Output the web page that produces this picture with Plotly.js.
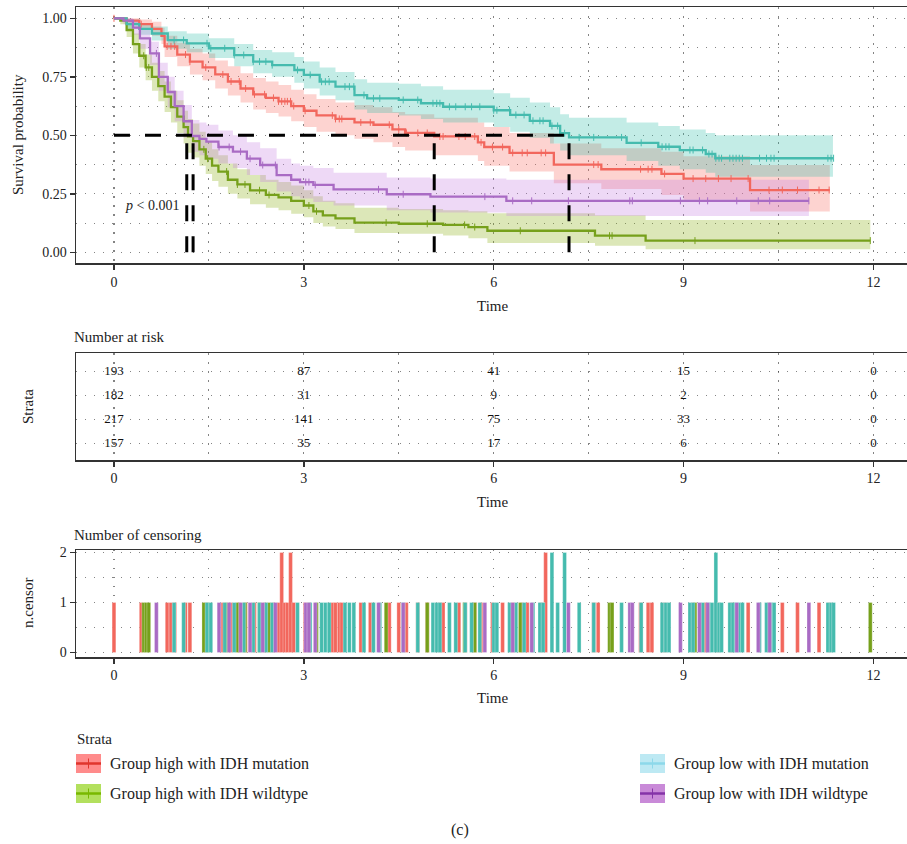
<!DOCTYPE html>
<html><head><meta charset="utf-8">
<script src="https://cdn.plot.ly/plotly-3.0.1.min.js"></script>
<style>html,body{margin:0;padding:0;background:#fff}#chart{width:907px;height:844px}</style>
</head><body><div id="chart"></div>
<script>
// ---------------- DATA ----------------
const groupNames = ["Group high with IDH mutation", "Group high with IDH wildtype", "Group low with IDH mutation", "Group low with IDH wildtype"];

// Kaplan-Meier step points (time, survival, lower CI, upper CI) and last follow-up
const redT  = [0, 0.2, 0.4, 0.6, 0.75, 0.8, 1.0, 1.2, 1.4, 1.6, 1.8, 2.0, 2.2, 2.4, 2.6, 2.8, 3.0, 3.2, 3.5, 3.8, 4.1, 4.4, 4.6, 5.06, 5.75, 5.85, 6.25, 6.95, 7.7, 8.65, 9.0, 10.05];
const redS  = [1, 0.99, 0.975, 0.955, 0.925, 0.88, 0.845, 0.815, 0.79, 0.76, 0.73, 0.70, 0.675, 0.66, 0.645, 0.625, 0.605, 0.585, 0.57, 0.555, 0.545, 0.525, 0.51, 0.495, 0.47, 0.45, 0.425, 0.375, 0.355, 0.335, 0.315, 0.266];
const redLo = [1, 0.975, 0.955, 0.925, 0.89, 0.835, 0.795, 0.76, 0.735, 0.70, 0.67, 0.64, 0.61, 0.595, 0.58, 0.56, 0.535, 0.515, 0.50, 0.485, 0.47, 0.45, 0.435, 0.415, 0.39, 0.37, 0.345, 0.295, 0.27, 0.245, 0.225, 0.174];
const redHi = [1, 1, 0.995, 0.985, 0.96, 0.925, 0.895, 0.87, 0.85, 0.82, 0.795, 0.765, 0.745, 0.73, 0.715, 0.695, 0.675, 0.655, 0.64, 0.63, 0.62, 0.60, 0.59, 0.575, 0.555, 0.535, 0.51, 0.465, 0.445, 0.43, 0.41, 0.373];
const redEnd = 11.31;

const greenT  = [0, 0.1, 0.2, 0.3, 0.4, 0.5, 0.6, 0.7, 0.8, 0.9, 1.0, 1.1, 1.17, 1.25, 1.35, 1.45, 1.55, 1.65, 1.8, 1.95, 2.15, 2.4, 2.6, 2.8, 3.0, 3.15, 3.3, 3.5, 3.8, 4.5, 5.2, 5.6, 5.9, 7.6, 8.4];
const greenS  = [1, 0.99, 0.95, 0.89, 0.84, 0.79, 0.75, 0.71, 0.665, 0.62, 0.58, 0.535, 0.495, 0.475, 0.44, 0.40, 0.37, 0.345, 0.31, 0.29, 0.265, 0.245, 0.235, 0.22, 0.20, 0.175, 0.158, 0.145, 0.127, 0.122, 0.117, 0.108, 0.092, 0.071, 0.05];
const greenLo = [1, 0.975, 0.92, 0.85, 0.79, 0.735, 0.69, 0.645, 0.60, 0.555, 0.51, 0.465, 0.425, 0.405, 0.37, 0.335, 0.305, 0.28, 0.25, 0.23, 0.205, 0.19, 0.18, 0.165, 0.15, 0.125, 0.11, 0.10, 0.083, 0.079, 0.072, 0.06, 0.04, 0.028, 0.013];
const greenHi = [1, 1, 0.98, 0.935, 0.89, 0.845, 0.81, 0.775, 0.73, 0.69, 0.65, 0.605, 0.57, 0.55, 0.515, 0.475, 0.44, 0.415, 0.38, 0.355, 0.33, 0.31, 0.30, 0.285, 0.265, 0.24, 0.22, 0.21, 0.19, 0.185, 0.18, 0.175, 0.167, 0.158, 0.138];
const greenEnd = 11.95;

const cyanT  = [0, 0.2, 0.4, 0.6, 0.85, 1.15, 1.5, 1.9, 2.2, 2.5, 2.85, 3.0, 3.25, 3.5, 3.8, 4.0, 4.5, 4.85, 5.2, 6.0, 6.26, 6.57, 6.89, 7.05, 7.19, 8.1, 8.6, 8.94, 9.35, 9.5];
const cyanS  = [1, 0.975, 0.955, 0.935, 0.907, 0.893, 0.872, 0.843, 0.815, 0.80, 0.779, 0.758, 0.729, 0.708, 0.672, 0.658, 0.651, 0.637, 0.622, 0.607, 0.587, 0.562, 0.54, 0.509, 0.491, 0.468, 0.451, 0.437, 0.42, 0.402];
const cyanLo = [1, 0.955, 0.93, 0.905, 0.87, 0.855, 0.83, 0.795, 0.765, 0.75, 0.725, 0.70, 0.67, 0.65, 0.61, 0.595, 0.585, 0.57, 0.555, 0.535, 0.515, 0.49, 0.465, 0.435, 0.415, 0.39, 0.37, 0.355, 0.34, 0.323];
const cyanHi = [1, 0.995, 0.98, 0.965, 0.945, 0.935, 0.915, 0.89, 0.865, 0.855, 0.835, 0.815, 0.79, 0.77, 0.74, 0.725, 0.72, 0.71, 0.695, 0.68, 0.66, 0.64, 0.62, 0.59, 0.575, 0.555, 0.54, 0.525, 0.51, 0.50];
const cyanEnd = 11.36;

const purpleT  = [0, 0.15, 0.3, 0.41, 0.57, 0.71, 0.85, 0.96, 1.1, 1.23, 1.35, 1.46, 1.65, 1.88, 2.1, 2.31, 2.57, 2.8, 2.94, 3.15, 3.47, 4.31, 5.0, 6.2];
const purpleS  = [1, 0.99, 0.96, 0.914, 0.85, 0.75, 0.685, 0.625, 0.56, 0.497, 0.485, 0.473, 0.45, 0.43, 0.40, 0.373, 0.33, 0.31, 0.30, 0.288, 0.269, 0.248, 0.238, 0.22];
const purpleLo = [1, 0.975, 0.93, 0.87, 0.80, 0.69, 0.62, 0.56, 0.49, 0.43, 0.415, 0.40, 0.38, 0.36, 0.33, 0.30, 0.26, 0.24, 0.23, 0.215, 0.20, 0.18, 0.17, 0.155];
const purpleHi = [1, 1, 0.99, 0.955, 0.90, 0.81, 0.75, 0.69, 0.63, 0.565, 0.555, 0.545, 0.52, 0.50, 0.47, 0.445, 0.40, 0.38, 0.37, 0.36, 0.34, 0.32, 0.315, 0.31];
const purpleEnd = 10.98;

// median survival times
const medianTimes = [5.06, 1.15, 7.19, 1.25];
const pValueText = "<i>p</i> < 0.001";

// number at risk
const riskTimes  = [0, 3, 6, 9, 12];
const riskRed    = [193, 87, 41, 15, 0];
const riskGreen  = [182, 31, 9, 2, 0];
const riskCyan   = [217, 141, 75, 33, 0];
const riskPurple = [157, 35, 17, 6, 0];

// censoring times and counts
const redCensT = [0.0, 0.43, 0.84, 0.9, 0.96, 1.13, 1.2, 1.45, 1.72, 1.85, 1.98, 2.08, 2.22, 2.38, 2.52, 2.6, 2.65, 2.7, 2.74, 2.79, 2.84, 3.02, 3.45, 3.5, 3.56, 3.6, 3.9, 4.05, 4.35, 4.5, 4.62, 4.8, 4.95, 5.15, 5.2, 5.45, 5.55, 5.7, 5.8, 5.98, 6.14, 6.3, 6.45, 6.53, 6.75, 6.82, 7.58, 7.65, 8.32, 8.44, 8.5, 8.7, 9.15, 9.35, 9.55, 9.75, 10.02, 10.35, 10.56, 10.8, 11.14, 11.3];
const redCensN = [1, 1, 1, 1, 1, 1, 1, 1, 1, 1, 1, 1, 1, 1, 1, 1, 2, 1, 1, 2, 1, 1, 1, 1, 1, 1, 1, 1, 1, 1, 1, 1, 1, 1, 1, 1, 1, 1, 1, 1, 1, 1, 1, 1, 1, 2, 1, 1, 1, 1, 1, 1, 1, 1, 1, 1, 1, 1, 1, 1, 1, 1];
const greenCensT = [0.47, 0.51, 0.55, 1.42, 1.48, 1.78, 1.95, 2.07, 2.3, 2.45, 3.08, 3.2, 4.3, 4.95, 5.54, 5.7, 6.42, 7.83, 7.87, 9.18, 11.95];
const greenCensN = [1, 1, 1, 1, 1, 1, 1, 1, 1, 1, 1, 1, 1, 1, 1, 1, 1, 1, 1, 1, 1];
const cyanCensT = [0.95, 1.1, 1.47, 1.53, 1.75, 1.9, 2.05, 2.2, 2.3, 2.4, 2.5, 2.9, 3.1, 3.28, 3.34, 3.4, 3.65, 3.72, 3.79, 3.95, 4.1, 4.2, 4.57, 4.8, 5.04, 5.1, 5.15, 5.3, 5.4, 5.55, 5.65, 5.78, 6.0, 6.05, 6.25, 6.35, 6.48, 6.62, 6.73, 6.78, 6.92, 7.01, 7.12, 7.35, 7.58, 8.02, 8.33, 8.66, 8.72, 8.77, 9.1, 9.15, 9.3, 9.4, 9.45, 9.51, 9.56, 9.6, 9.73, 9.78, 9.83, 9.88, 9.93, 10.2, 10.31, 10.38, 10.43, 11.28, 11.33, 11.37];
const cyanCensN = [1, 1, 1, 1, 1, 1, 1, 1, 1, 1, 1, 1, 1, 1, 1, 1, 1, 1, 1, 1, 1, 1, 1, 1, 1, 1, 1, 1, 1, 1, 1, 1, 1, 1, 1, 1, 1, 1, 1, 1, 2, 1, 2, 1, 1, 1, 1, 1, 1, 1, 1, 1, 1, 1, 1, 2, 1, 1, 1, 1, 1, 1, 1, 1, 1, 1, 1, 1, 1, 1];
const purpleCensT = [0.67, 1.66, 1.82, 2.0, 2.15, 2.35, 2.55, 3.03, 3.08, 3.18, 4.18, 4.57, 5.86, 6.3, 6.6, 7.18, 8.15, 8.19, 8.95, 9.25, 9.38, 9.84, 10.18, 10.36, 10.98];
const purpleCensN = [1, 1, 1, 1, 1, 1, 1, 1, 1, 1, 1, 1, 1, 1, 1, 1, 1, 1, 1, 1, 1, 1, 1, 1, 1];

// ---------------- STYLE ----------------
const W = 907, H = 844;
const FONT = "Liberation Serif, Times New Roman, serif";
const lineCols = ["#F2675D", "#76A01B", "#45BBAE", "#A96BC4"];
const bandCols = ["rgba(248,118,109,0.32)", "rgba(140,175,20,0.30)", "rgba(40,185,165,0.28)", "rgba(200,130,225,0.30)"];
const keyFill = ["#FF8B8B", "#B3E05E", "#BDE9F3", "#C98AD8"];
const keyLine = ["#E0352D", "#78B800", "#8DD8EA", "#8433A8"];

const groups = [
  {T: redT, S: redS, Lo: redLo, Hi: redHi, end: redEnd, cT: redCensT, cN: redCensN, risk: riskRed},
  {T: greenT, S: greenS, Lo: greenLo, Hi: greenHi, end: greenEnd, cT: greenCensT, cN: greenCensN, risk: riskGreen},
  {T: cyanT, S: cyanS, Lo: cyanLo, Hi: cyanHi, end: cyanEnd, cT: cyanCensT, cN: cyanCensN, risk: riskCyan},
  {T: purpleT, S: purpleS, Lo: purpleLo, Hi: purpleHi, end: purpleEnd, cT: purpleCensT, cN: purpleCensN, risk: riskPurple}
];

function stepAt(ts, ss, t) { let v = ss[0]; for (let i = 0; i < ts.length; i++) { if (ts[i] <= t) v = ss[i]; } return v; }
const last = a => a[a.length - 1];
const px = x => x / W;
const py = y => 1 - y / H;

const traces = [];
// confidence bands
groups.forEach((g, i) => {
  traces.push({x: g.T.concat([g.end]), y: g.Hi.concat([last(g.Hi)]), mode: 'lines', line: {shape: 'hv', width: 0, color: bandCols[i]}, xaxis: 'x', yaxis: 'y', hoverinfo: 'skip'});
  traces.push({x: g.T.concat([g.end]), y: g.Lo.concat([last(g.Lo)]), mode: 'lines', line: {shape: 'hv', width: 0, color: bandCols[i]}, fill: 'tonexty', fillcolor: bandCols[i], xaxis: 'x', yaxis: 'y', hoverinfo: 'skip'});
});
// survival curves
groups.forEach((g, i) => {
  traces.push({x: g.T.concat([g.end]), y: g.S.concat([last(g.S)]), mode: 'lines', line: {shape: 'hv', width: 2.3, color: lineCols[i]}, xaxis: 'x', yaxis: 'y', name: groupNames[i]});
  traces.push({x: g.cT, y: g.cT.map(t => stepAt(g.T, g.S, t)), mode: 'markers', marker: {symbol: 'line-ns', size: 5, color: lineCols[i], line: {width: 1, color: lineCols[i]}}, xaxis: 'x', yaxis: 'y', hoverinfo: 'skip'});
});
// median lines
const dashSpec = '16px,15px';
traces.push({x: [0, Math.max(...medianTimes)], y: [0.5, 0.5], mode: 'lines', line: {color: '#000', width: 3, dash: dashSpec}, xaxis: 'x', yaxis: 'y', hoverinfo: 'skip'});
medianTimes.forEach(m => {
  traces.push({x: [m, m], y: [0, 0.5], mode: 'lines', line: {color: '#000', width: 3, dash: dashSpec}, xaxis: 'x', yaxis: 'y', hoverinfo: 'skip'});
});
// risk table
groups.forEach((g, i) => {
  traces.push({x: riskTimes, y: riskTimes.map(() => 4 - i), mode: 'text', text: g.risk.map(String), textfont: {family: FONT, size: 13, color: '#111'}, xaxis: 'x2', yaxis: 'y2', hoverinfo: 'skip'});
});
// censoring bars
groups.forEach((g, i) => {
  traces.push({type: 'bar', x: g.cT, y: g.cN, width: 0.06, marker: {color: lineCols[i], line: {width: 0.6, color: 'rgba(255,255,255,0.5)'}}, xaxis: 'x3', yaxis: 'y3', hoverinfo: 'skip'});
});

const gridCol = 'rgba(50,50,50,0.6)';
const gridDash = '1.2px,7.8px';
const gridW = 1.1;
function xAxis(anchor) {
  return {domain: [px(76), 1], range: [-0.6, 12.53], anchor: anchor, tickmode: 'linear', tick0: 0, dtick: 3,
    ticks: 'outside', ticklen: 5, tickwidth: 1.5, tickcolor: '#333', showline: true, linecolor: '#333', linewidth: 1.5, mirror: true,
    showgrid: true, gridcolor: gridCol, griddash: gridDash, gridwidth: gridW, zeroline: false,
    minor: {dtick: 1.5, tick0: 0, showgrid: true, gridcolor: gridCol, griddash: gridDash, gridwidth: gridW},
    tickfont: {family: FONT, size: 14, color: '#222'}, fixedrange: true};
}
const layout = {
  width: W, height: H, margin: {l: 0, r: 0, t: 0, b: 0}, showlegend: false,
  paper_bgcolor: '#fff', plot_bgcolor: '#fff', barmode: 'overlay', bargap: 0,
  font: {family: FONT, color: '#222'},
  xaxis: xAxis('y'),
  yaxis: {domain: [py(263.3), py(7.3)], range: [-0.047, 1.047], anchor: 'x', tickmode: 'linear', tick0: 0, dtick: 0.25, tickformat: '.2f',
    ticks: 'outside', ticklen: 5, tickwidth: 1.5, tickcolor: '#333', showline: true, linecolor: '#333', linewidth: 1.5, mirror: true,
    showgrid: true, gridcolor: gridCol, griddash: gridDash, gridwidth: gridW, zeroline: false,
    minor: {dtick: 0.125, tick0: 0, showgrid: true, gridcolor: gridCol, griddash: gridDash, gridwidth: gridW},
    tickfont: {family: FONT, size: 14, color: '#222'}},
  xaxis2: xAxis('y2'),
  yaxis2: {domain: [py(460), py(353.3)], range: [0.3, 4.77], anchor: 'x2', tickmode: 'linear', tick0: 1, dtick: 1, showticklabels: false, ticks: '',
    showline: true, linecolor: '#333', linewidth: 1.5, mirror: true, showgrid: true, gridcolor: gridCol, griddash: gridDash, gridwidth: gridW, zeroline: false},
  xaxis3: xAxis('y3'),
  yaxis3: {domain: [py(657), py(550)], range: [-0.09, 2.05], anchor: 'x3', tickmode: 'linear', tick0: 0, dtick: 1,
    ticks: 'outside', ticklen: 5, tickwidth: 1.5, tickcolor: '#333', showline: true, linecolor: '#333', linewidth: 1.5, mirror: true,
    showgrid: true, gridcolor: gridCol, griddash: gridDash, gridwidth: gridW, zeroline: false,
    minor: {dtick: 0.5, tick0: 0, showgrid: true, gridcolor: gridCol, griddash: gridDash, gridwidth: gridW},
    tickfont: {family: FONT, size: 14, color: '#222'}},
  annotations: [], shapes: []
};
const A = layout.annotations, Sh = layout.shapes;
function txt(text, x, y, opts) {
  A.push(Object.assign({text: text, x: px(x), y: py(y), xref: 'paper', yref: 'paper', showarrow: false, xanchor: 'center', yanchor: 'middle',
    font: {family: FONT, size: 15, color: '#222'}}, opts || {}));
}
txt('Survival probability', 18, 135, {textangle: -90});
txt('Time', 493, 306);
txt(pValueText, 0, 0, {xref: 'x', yref: 'y', x: 0.15, y: 0.2, xanchor: 'left', font: {family: FONT, size: 14, color: '#222'}});
txt('Number at risk', 72, 337, {xanchor: 'left'});
txt('Strata', 28, 407, {textangle: -90});
txt('Time', 493, 502);
txt('Number of censoring', 72, 535, {xanchor: 'left'});
txt('n.censor', 28, 603, {textangle: -90});
txt('Time', 493, 698);
txt('Strata', 75, 739, {xanchor: 'left'});
txt('(c)', 460, 830, {font: {family: FONT, size: 16, color: '#222'}});

// legend
groupNames.forEach((name, i) => {
  const col = i < 2 ? 0 : 1, row = i % 2;
  const bx = col === 0 ? 76 : 640, by = row === 0 ? 754 : 784;
  const bw = 25, bh = 19;
  Sh.push({type: 'rect', xref: 'paper', yref: 'paper', x0: px(bx), x1: px(bx + bw), y0: py(by + bh), y1: py(by), fillcolor: keyFill[i], line: {width: 0}});
  Sh.push({type: 'line', xref: 'paper', yref: 'paper', x0: px(bx), x1: px(bx + bw), y0: py(by + bh / 2), y1: py(by + bh / 2), line: {color: keyLine[i], width: 2.5}});
  Sh.push({type: 'line', xref: 'paper', yref: 'paper', x0: px(bx + bw / 2), x1: px(bx + bw / 2), y0: py(by + bh / 2 - 5), y1: py(by + bh / 2 + 5), line: {color: keyLine[i], width: 1}});
  txt(name, bx + bw + 7, by + bh / 2, {xanchor: 'left', font: {family: FONT, size: 16, color: '#222'}});
});

Plotly.newPlot('chart', traces, layout, {staticPlot: true, displayModeBar: false});
</script></body></html>
